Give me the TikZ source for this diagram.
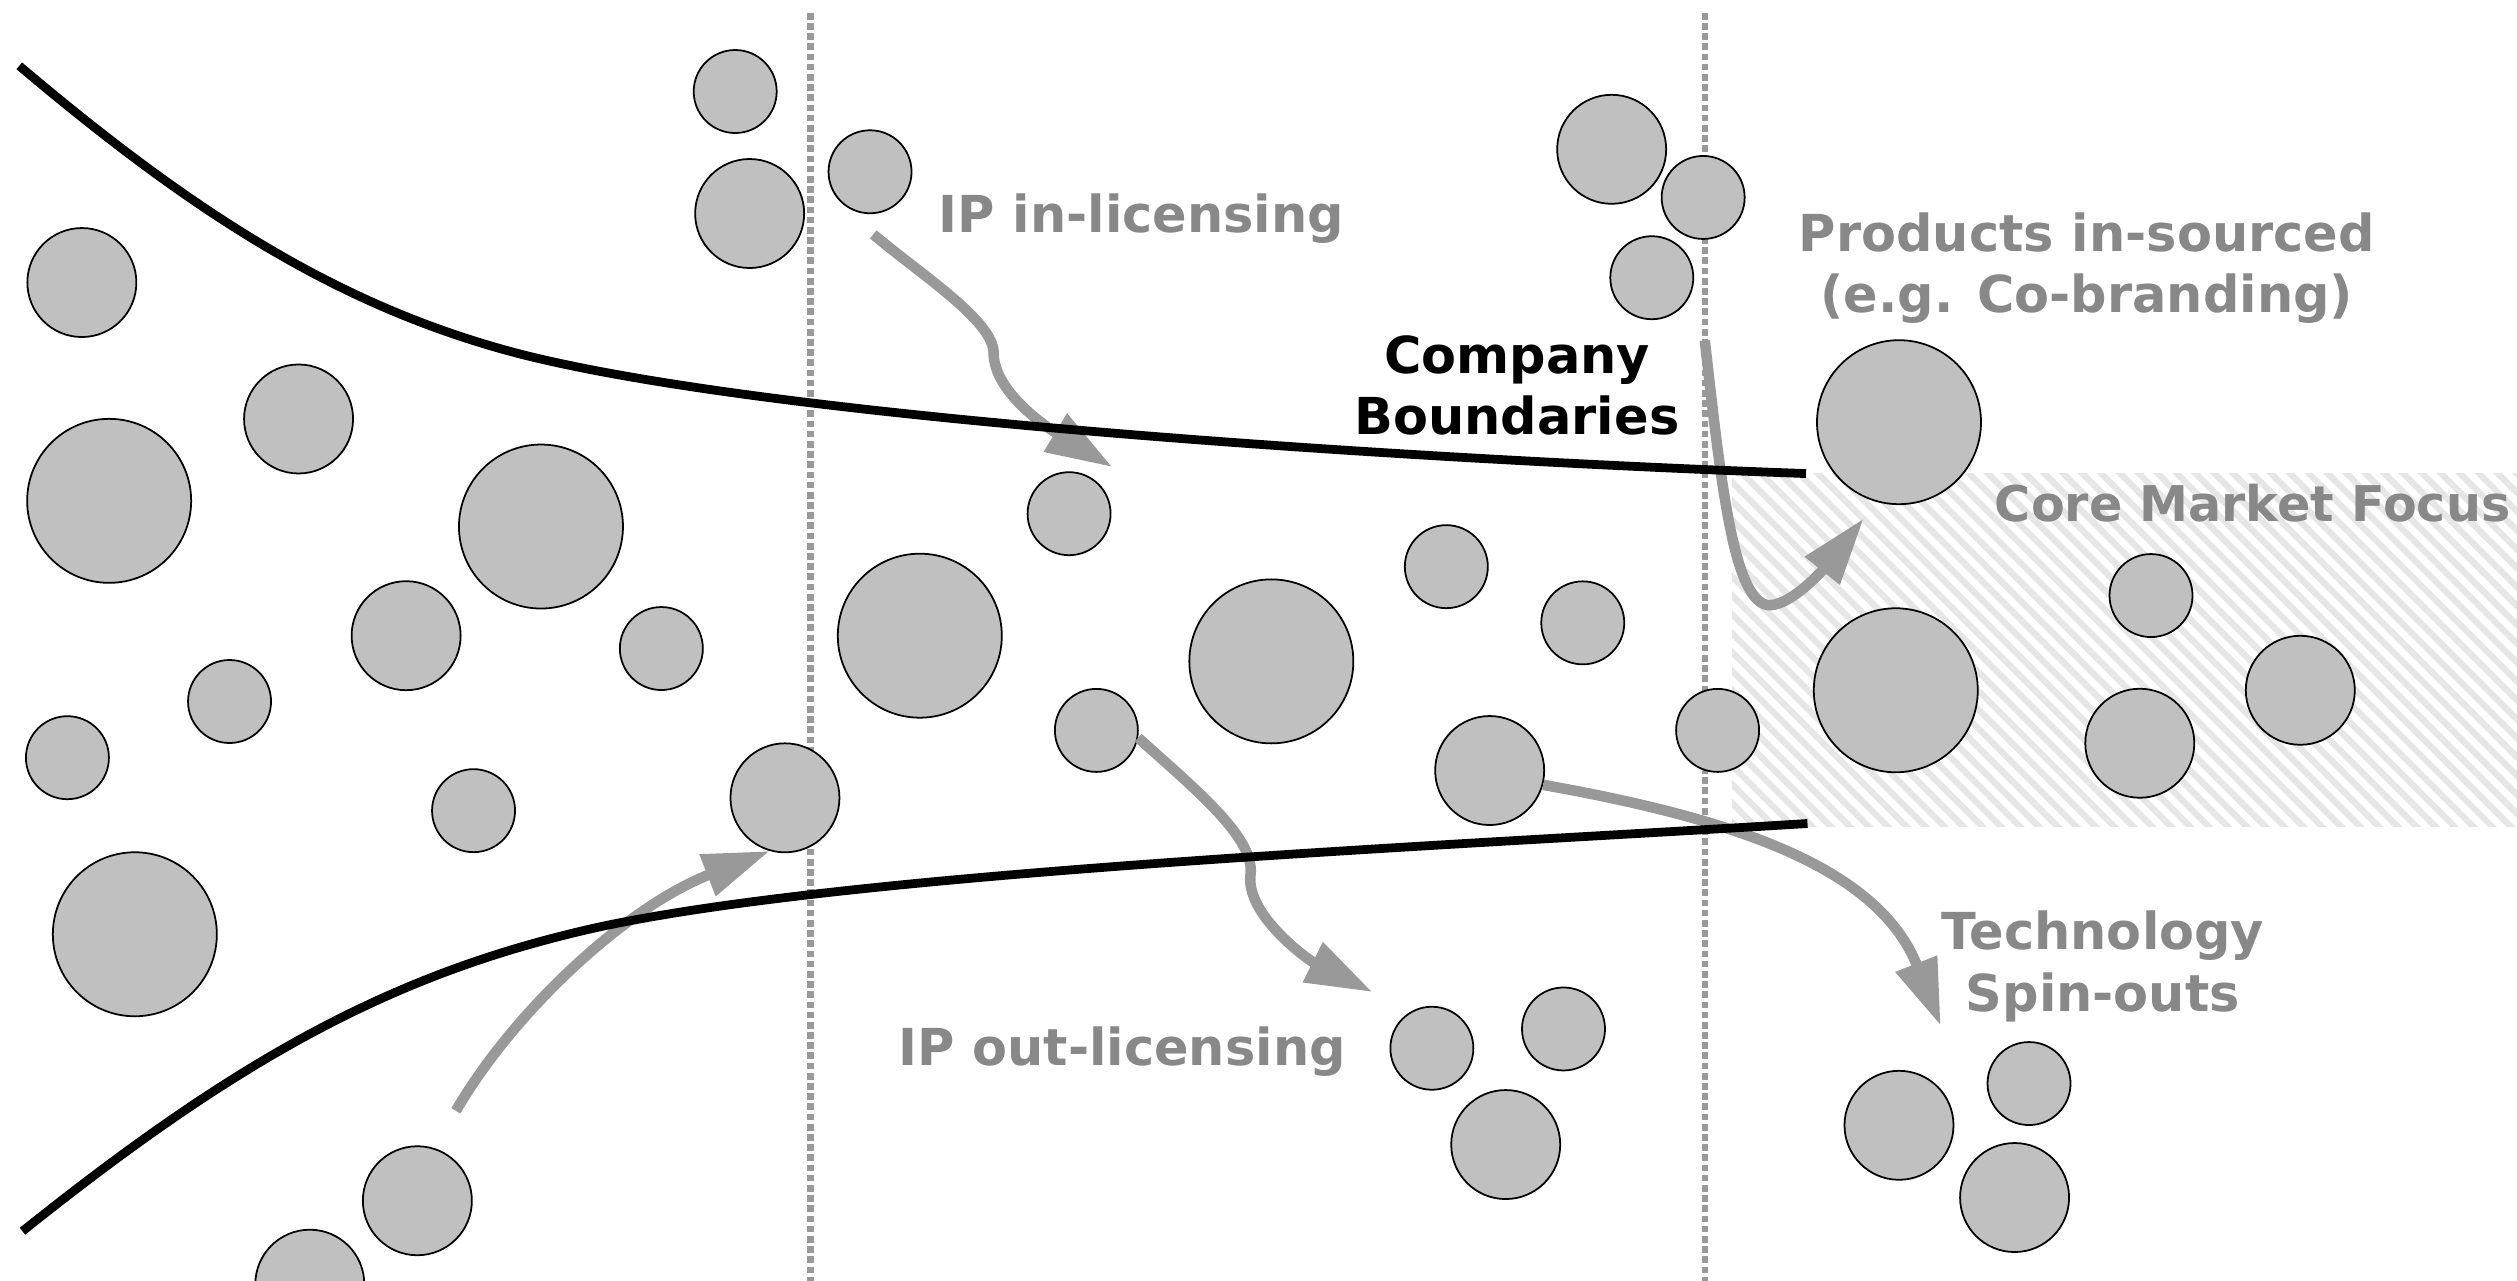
\documentclass[tikz,border=0pt]{standalone}
\usepackage{fontspec}
\setsansfont{DejaVu Sans}
\usetikzlibrary{arrows.meta, patterns.meta}
\definecolor{bubblegray}{HTML}{C0C0C0}
\definecolor{arrowgray}{HTML}{999999}
\definecolor{notegray}{HTML}{888888}
\definecolor{hatchgray}{HTML}{E6E6E6}

\begin{document}
\begin{tikzpicture}[
    x=0.01605cm, y=-0.01605cm,
    bubble/.style={circle, draw=black, line width=0.5pt, fill=bubblegray, inner sep=0pt},
    small bubble/.style={bubble, minimum size=0.83cm},
    mid bubble/.style={bubble, minimum size=1.09cm},
    big bubble/.style={bubble, minimum size=1.64cm},
    boundary/.style={line width=2.5pt},
    divider/.style={arrowgray, line width=1.8pt, dash pattern=on 1.9pt off 1pt},
    arrow/.style={-{Triangle[length=19pt, width=12pt]}, line width=3pt, arrowgray},
    note/.style={font=\sffamily\bfseries\fontsize{14.5}{17.5}\selectfont, text=notegray, align=center}
]
    \useasboundingbox (0,0) rectangle (1568,798);

    \fill[pattern={Lines[angle=-45, distance=3.8pt, line width=1.8pt]}, pattern color=hatchgray] (1079,295) rectangle (1568,515);

    \draw[divider] (505,8) -- (505,798);
    \draw[divider] (1062,8) -- (1062,798);

    \node[small bubble] (l1) at (458,57) {};
    \node[mid bubble] (l2) at (467,133) {};
    \node[mid bubble] (l3) at (51,176) {};
    \node[mid bubble] (l4) at (186,261) {};
    \node[big bubble] (l5) at (68,312) {};
    \node[big bubble] (l6) at (337,328) {};
    \node[mid bubble] (l7) at (253,396) {};
    \node[small bubble] (l8) at (412,404) {};
    \node[small bubble] (l9) at (143,437) {};
    \node[small bubble] (l10) at (42,472) {};
    \node[small bubble] (l11) at (295,505) {};
    \node[mid bubble] (l12) at (489,497) {};
    \node[big bubble] (l13) at (84,582) {};
    \node[mid bubble] (l14) at (260,748) {};
    \node[mid bubble] (l15) at (193,800) {};

    \node[small bubble] (m1) at (542,107) {};
    \node[small bubble] (m2) at (666,320) {};
    \node[big bubble] (m3) at (573,396) {};
    \node[big bubble] (m4) at (792,412) {};
    \node[small bubble] (m5) at (683,455) {};
    \node[small bubble] (m6) at (901,353) {};
    \node[small bubble] (m7) at (986,388) {};
    \node[mid bubble] (m8) at (928,480) {};
    \node[small bubble] (m9) at (1070,455) {};
    \node[mid bubble] (m10) at (1004,93) {};
    \node[small bubble] (m11) at (1061,123) {};
    \node[small bubble] (m12) at (1029,173) {};
    \node[small bubble] (m13) at (892,653) {};
    \node[small bubble] (m14) at (974,641) {};
    \node[mid bubble] (m15) at (938,713) {};

    \node[big bubble] (r1) at (1183,263) {};
    \node[big bubble] (r2) at (1181,430) {};
    \node[small bubble] (r3) at (1340,371) {};
    \node[mid bubble] (r4) at (1333,463) {};
    \node[mid bubble] (r5) at (1433,430) {};
    \node[mid bubble] (r6) at (1183,701) {};
    \node[small bubble] (r7) at (1264,675) {};
    \node[mid bubble] (r8) at (1255,746) {};

    \coordinate (inlic from) at (544,146);
    \coordinate (inlic to) at (693,291);
    \coordinate (entry from) at (284,692);
    \coordinate (outlic to) at (855,618);
    \coordinate (insource from) at (1062,212);
    \coordinate (insource to) at (1161,323);
    \coordinate (spinout to) at (1209,639);

    \draw[arrow] (inlic from) .. controls (575,172) and (619,200) .. (619,220) .. controls (619,245) and (655,268) .. (inlic to);
    \draw[arrow] (entry from) .. controls (320,630) and (390,565) .. (l12.-106);
    \draw[arrow] (m5.-10) .. controls (745,492) and (782,522) .. (779,545) .. controls (776,570) and (815,598) .. (outlic to);
    \draw[arrow] (insource from) .. controls (1072,300) and (1080,378) .. (1103,377) .. controls (1118,376) and (1138,352) .. (insource to);
    \draw[arrow] (m8.-15) .. controls (1080,510) and (1170,540) .. (spinout to);

    \draw[boundary] (12,41) .. controls (122,134) and (212,191) .. (322,220) .. controls (472,259) and (850,285) .. (1125,295);
    \draw[boundary] (14,767) .. controls (144,663) and (238,610) .. (358,581) .. controls (508,544) and (900,527) .. (1126,513);

    \node[note] (inlic) at (711,136) {IP in-licensing};
    \node[note, text=black] (boundaries) at (945,240) {Company\\Boundaries};
    \node[note] (insource) at (1300,167) {Products in-sourced\\(e.g. Co-branding)};
    \node[note, anchor=base west, font=\sffamily\bfseries\fontsize{14}{17}\selectfont] (core) at (1235,325) {Core Market Focus};
    \node[note] (spinout) at (1310,602) {Technology\\Spin-outs};
    \node[note] (outlic) at (699,655) {IP out-licensing};
\end{tikzpicture}
\end{document}
